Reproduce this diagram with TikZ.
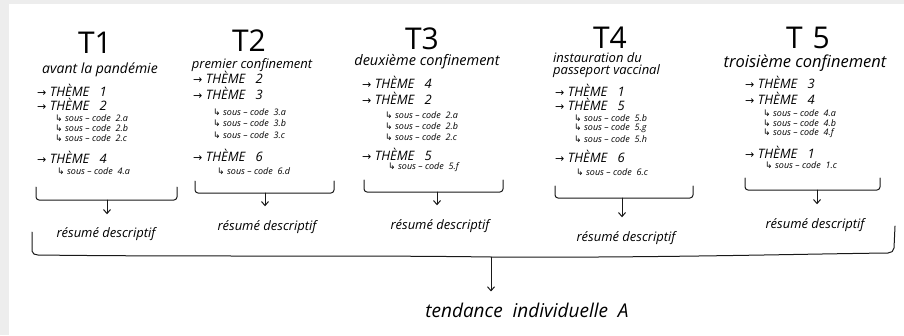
\documentclass[tikz,border=0pt]{standalone}
\usepackage{fontspec}
\setmainfont{Open Sans}
\newfontfamily\symf{DejaVu Sans}
\usetikzlibrary{arrows.meta}
\newcommand\themeline[1]{{\symf\upshape\fontsize{11}{11}\selectfont →}\ THÈME\ \ \ #1}
\newcommand\souscodeline[1]{{\symf\upshape ↳}\ sous – code\ \ #1}
\begin{document}
\begin{tikzpicture}[x=1pt,y=-1pt,
  ink/.style={draw=black!90, line width=1pt, line cap=round, line join=round},
  brk/.style={ink, rounded corners=3pt},
  ttl/.style={font=\fontsize{30}{30}\selectfont, inner sep=0},
  sub/.style={font=\fontsize{14}{14}\selectfont\itshape, inner sep=0},
  theme/.style={font=\fontsize{13}{13}\selectfont\itshape, anchor=west, inner sep=0},
  sous/.style={font=\fontsize{9}{9}\selectfont\itshape, anchor=west, inner sep=0},
  res/.style={font=\fontsize{13}{13}\selectfont\itshape, inner sep=0},
  conn/.style={ink, -{Straight Barb[length=4pt,width=7pt]}},
]
\fill[black!7] (0,0) rectangle (904,335);
\fill[white] (9,4) rectangle (904,335);
\useasboundingbox (0,0) rectangle (904,335);

% ---------- T1
\node[ttl] (t1) at (95,43) {T1};
\node[sub] (s1) at (100,70) {avant la pandémie};
\node[theme] (t1a) at (37,90) {\themeline{1}};
\node[theme] (t1b) at (37,104) {\themeline{2}};
\node[sous] (t1b1) at (55,118) {\souscodeline{2.a}};
\node[sous] (t1b2) at (55,128) {\souscodeline{2.b}};
\node[sous] (t1b3) at (55,138) {\souscodeline{2.c}};
\node[theme] (t1c) at (37,157) {\themeline{4}};
\node[sous] (t1c1) at (57,171) {\souscodeline{4.a}};
\draw[brk] (36,187) -- (36,200) -- (177,200) -- (177,187);
\coordinate (b1) at (107,200);
\node[res] (r1) at (106,234) {résumé descriptif};
\draw[conn, shorten >=13pt] (b1) -- (b1 |- r1.north);

% ---------- T2
\node[ttl] (t2) at (249,41) {T2};
\node[sub, font=\fontsize{13}{13}\selectfont\itshape] (s2) at (252,65) {premier confinement};
\node[theme] (t2a) at (193,77) {\themeline{2}};
\node[theme] (t2b) at (193,93) {\themeline{3}};
\node[sous] (t2b1) at (213,112) {\souscodeline{3.a}};
\node[sous] (t2b2) at (213,123) {\souscodeline{3.b}};
\node[sous] (t2b3) at (213,135) {\souscodeline{3.c}};
\node[theme] (t2c) at (193,155) {\themeline{6}};
\node[sous] (t2c1) at (217,171) {\souscodeline{6.d}};
\draw[brk] (195,181) -- (195,193) -- (334,193) -- (334,181);
\coordinate (b2) at (265,193);
\node[res] (r2) at (267,227) {résumé descriptif};
\draw[conn, shorten >=14pt] (b2) -- (b2 |- r2.north);

% ---------- T3
\node[ttl] (t3) at (422,39) {T3};
\node[sub, font=\fontsize{14.5}{14.5}\selectfont\itshape] (s3) at (427,62) {deuxième confinement};
\node[theme] (t3a) at (362,82) {\themeline{4}};
\node[theme] (t3b) at (362,98) {\themeline{2}};
\node[sous] (t3b1) at (385,115) {\souscodeline{2.a}};
\node[sous] (t3b2) at (385,126) {\souscodeline{2.b}};
\node[sous] (t3b3) at (385,137) {\souscodeline{2.c}};
\node[theme] (t3c) at (362,154) {\themeline{5}};
\node[sous] (t3c1) at (388,167) {\souscodeline{5.f}};
\draw[brk] (364,180) -- (364,192) -- (503,192) -- (503,180);
\coordinate (b3) at (437,192);
\node[res] (r3) at (440,226) {résumé descriptif};
\draw[conn, shorten >=14pt] (b3) -- (b3 |- r3.north);

% ---------- T4
\node[ttl] (t4) at (610,38) {T4};
\node[sub, anchor=west, align=left, font=\fontsize{13}{12}\selectfont\itshape] (s4) at (553,65) {instauration du\\passeport vaccinal};
\node[theme] (t4a) at (555,90) {\themeline{1}};
\node[theme] (t4b) at (555,104) {\themeline{5}};
\node[sous] (t4b1) at (574,118) {\souscodeline{5.b}};
\node[sous] (t4b2) at (574,128) {\souscodeline{5.g}};
\node[sous] (t4b3) at (574,139) {\souscodeline{5.h}};
\node[theme] (t4c) at (555,156) {\themeline{6}};
\node[sous] (t4c1) at (576,172) {\souscodeline{6.c}};
\draw[brk] (555,186) -- (555,198) -- (693,198) -- (693,186);
\coordinate (b4) at (622,198);
\node[res] (r4) at (626,238) {résumé descriptif};
\draw[conn, shorten >=14pt] (b4) -- (b4 |- r4.north);

% ---------- T5
\node[ttl] (t5) at (808,38) {T\,\,5};
\node[sub, font=\fontsize{16.5}{16.5}\selectfont\itshape] (s5) at (805,63) {troisième confinement};
\node[theme] (t5a) at (745,82) {\themeline{3}};
\node[theme] (t5b) at (745,98) {\themeline{4}};
\node[sous] (t5b1) at (763,113) {\souscodeline{4.a}};
\node[sous] (t5b2) at (763,123) {\souscodeline{4.b}};
\node[sous] (t5b3) at (763,133) {\souscodeline{4.f}};
\node[theme] (t5c) at (745,152) {\themeline{1}};
\node[sous] (t5c1) at (765,165) {\souscodeline{1.c}};
\draw[brk] (745,178) -- (745,190) -- (880,190) -- (880,178);
\coordinate (b5) at (817,190);
\node[res] (r5) at (815,225) {résumé descriptif};
\draw[conn, shorten >=14pt] (b5) -- (b5 |- r5.north);

% ---------- big brace
\draw[ink] (32,232) -- (32,251) to[out=-90,in=180] (38,255)
  .. controls (200,257) and (350,255) .. (491,257)
  .. controls (650,258) and (800,254) .. (888,253)
  to[out=0,in=-90] (894,248) -- (895,226);
\coordinate (bb) at (491,257);
\node[font=\fontsize{19}{19}\selectfont\itshape, inner sep=0] (tend) at (527,310) {tendance\ \ individuelle\ \ A};
\draw[conn, shorten >=11pt] (bb) -- (bb |- tend.north);
\end{tikzpicture}
\end{document}
